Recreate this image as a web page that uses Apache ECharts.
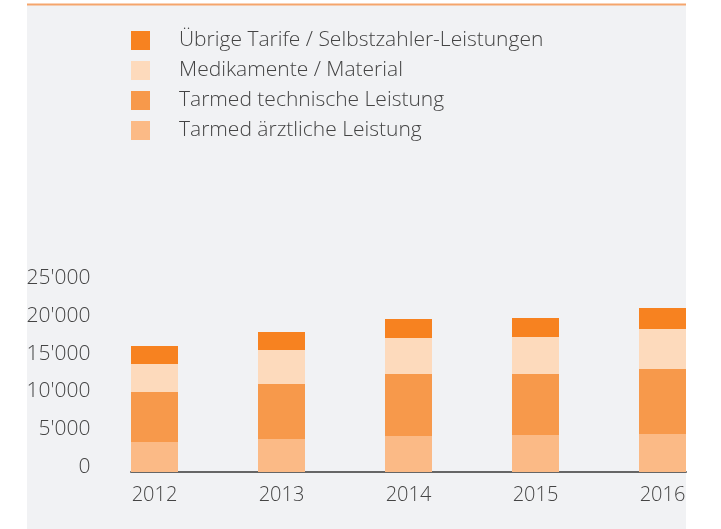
<!DOCTYPE html>
<html>
<head>
<meta charset="utf-8">
<script src="https://cdn.jsdelivr.net/npm/echarts@6/dist/echarts.min.js"></script>
<style>
  html, body { margin: 0; padding: 0; background: #fff; }
  #chart { width: 721px; height: 529px; }
</style>
</head>
<body>
<div id="chart"></div>
<script>
// Jahre und Werte
var years = ['2012', '2013', '2014', '2015', '2016'];
var aerztlich = [3970, 4370, 4760, 4890, 5030];
var technisch = [6610, 7280, 8200, 8070, 8600];
var medikamente = [3700, 4500, 4760, 4890, 5290];
var uebrige = [2380, 2380, 2510, 2510, 2780];

var names = [
  'Tarmed ärztliche Leistung',
  'Tarmed technische Leistung',
  'Medikamente / Material',
  'Übrige Tarife / Selbstzahler-Leistungen'
];
var colors = ['#fbba86', '#f7994b', '#fddabc', '#f78220'];
var font = 'Open Sans';
var textColor = '#444';

function fmt(v) {
  return String(v).replace(/\B(?=(\d{3})+(?!\d))/g, "'");
}

var chart = echarts.init(document.getElementById('chart'));

chart.setOption({
  animation: false,
  graphic: [
    {
      type: 'rect',
      z: -10,
      shape: { x: 27, y: 4, width: 659, height: 525 },
      style: { fill: '#f1f2f4' },
      silent: true
    },
    {
      type: 'line',
      z: -5,
      shape: { x1: 27, y1: 4.5, x2: 686, y2: 4.5 },
      style: { stroke: '#f5a56c', lineWidth: 2 },
      silent: true
    }
  ],
  legend: {
    orient: 'vertical',
    left: 131,
    top: 30,
    padding: 0,
    itemWidth: 19,
    itemHeight: 19,
    itemGap: 9,
    icon: 'rect',
    data: names.slice().reverse(),
    textStyle: {
      fontFamily: font,
      fontWeight: 300,
      fontSize: 21,
      color: textColor,
      padding: [0, 0, 0, 24]
    }
  },
  // grid 0: bars (categories sit on the grid edges); grid 1: only the baseline
  grid: [
    { left: 154.5, width: 508, top: 283, bottom: 57 },
    { left: 131, right: 35, top: 283, bottom: 57 }
  ],
  xAxis: [
    {
      type: 'category',
      gridIndex: 0,
      data: years,
      boundaryGap: false,
      axisTick: { show: false },
      axisLine: { show: false },
      axisLabel: {
        margin: 13,
        fontFamily: font,
        fontWeight: 300,
        fontSize: 20,
        color: textColor
      }
    },
    {
      type: 'value',
      gridIndex: 1,
      min: 0,
      max: 1,
      splitLine: { show: false },
      axisTick: { show: false },
      axisLabel: { show: false },
      axisLine: { show: true, onZero: false, lineStyle: { color: '#666', width: 2 } }
    }
  ],
  yAxis: [
    {
      type: 'value',
      gridIndex: 0,
      min: 0,
      max: 25000,
      interval: 5000,
      splitLine: { show: false },
      axisTick: { show: false },
      axisLine: { show: false },
      axisLabel: {
        formatter: fmt,
        margin: 64,
        verticalAlign: 'bottom',
        lineHeight: 10,
        fontFamily: font,
        fontWeight: 300,
        fontSize: 21,
        color: textColor
      }
    },
    {
      type: 'value',
      gridIndex: 1,
      min: 0,
      max: 1,
      show: false
    }
  ],
  series: [aerztlich, technisch, medikamente, uebrige].map(function (vals, i) {
    return {
      name: names[i],
      type: 'bar',
      stack: 'total',
      barWidth: 47,
      clip: false,
      xAxisIndex: 0,
      yAxisIndex: 0,
      itemStyle: { color: colors[i] },
      data: vals
    };
  })
});
</script>
</body>
</html>
